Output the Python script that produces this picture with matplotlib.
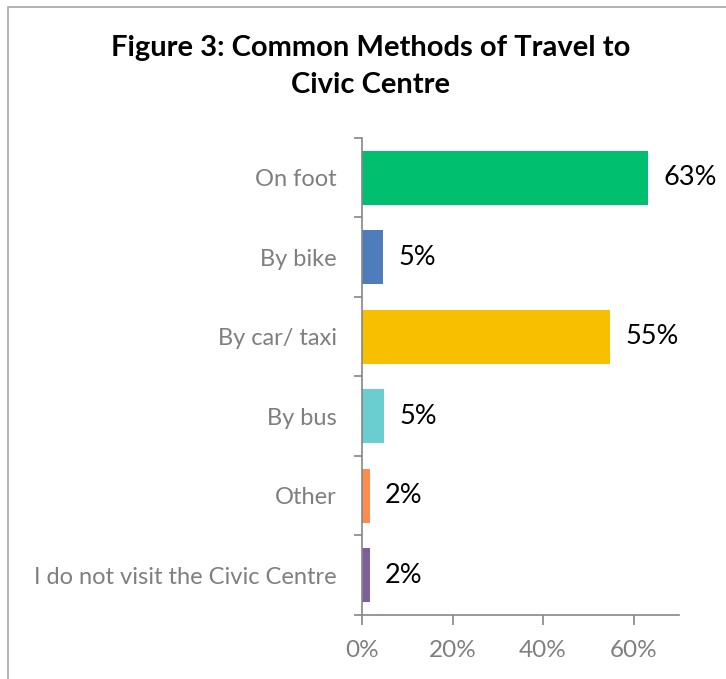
# -*- coding: utf-8 -*-
import numpy as np
import matplotlib.pyplot as plt
from matplotlib.patches import Rectangle

# %% Data ---------------------------------------------------------------------
categories = ['On foot', 'By bike', 'By car/ taxi', 'By bus', 'Other',
              'I do not visit the Civic Centre']
values = [63.2, 4.7, 54.9, 4.8, 1.7, 1.7]
colors = ['#00BF6F', '#4F7CBA', '#F8BF00', '#6ACDCF', '#FF8C4F', '#7F5F9A']
xticks = [0, 20, 40, 60]

# %% Figure -------------------------------------------------------------------
plt.rcParams['font.family'] = ['Lato', 'DejaVu Sans']
fig = plt.figure(figsize=(7.26, 6.79), dpi=100)
ax = fig.add_axes([0.4986, 0.0943, 0.4364, 0.7025])

y = np.arange(len(categories))
ax.barh(y, values, height=0.68, color=colors)
ax.set_ylim(len(categories) - 0.5, -0.5)
ax.set_xlim(0, 70)

for yi, v in zip(y, values):
    ax.annotate(f'{v:.0f}%', (v, yi), xytext=(11, 0), textcoords='offset points',
                va='center', ha='left', fontsize=19.5, color='black')

# axes styling
for s in ['top', 'right']:
    ax.spines[s].set_visible(False)
for s in ['left', 'bottom']:
    ax.spines[s].set_color('#868686')
    ax.spines[s].set_linewidth(1.2)

ax.set_xticks(xticks)
ax.set_xticklabels([f'{t}%' for t in xticks])
ax.tick_params(axis='x', length=7, width=1.2, color='#868686', pad=11,
               labelsize=17.5, labelcolor='#7F7F7F')

ax.set_yticks(y)
ax.set_yticklabels(categories)
ax.tick_params(axis='y', which='major', length=0, pad=18,
               labelsize=17, labelcolor='#7F7F7F')
ax.set_yticks(np.arange(len(categories) + 1) - 0.5, minor=True)
ax.tick_params(axis='y', which='minor', length=6, width=1.2, color='#868686')

# title
fig.text(0.51, 0.902, 'Figure 3: Common Methods of Travel to\nCivic Centre',
         ha='center', va='center', fontsize=21, fontweight='bold',
         linespacing=1.5)

# chart border (cut off on right and bottom)
fig.patches.append(Rectangle((8/726, -0.1), 1.2, 1 - 7/679 + 0.1,
                             transform=fig.transFigure, fill=False,
                             edgecolor='#A6A6A6', linewidth=1.2))

fig.savefig('out.png', dpi=100)
